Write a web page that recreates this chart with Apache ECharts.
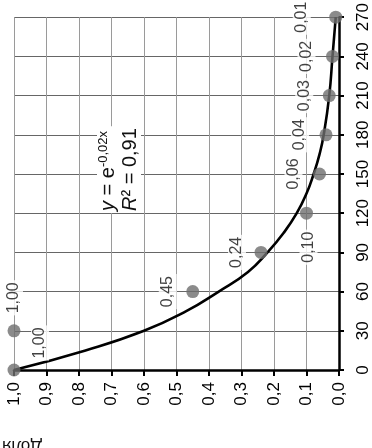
<!DOCTYPE html>
<html><head><meta charset="utf-8">
<script src="https://cdn.jsdelivr.net/npm/echarts@6/dist/echarts.min.js"></script>
<style>html,body{margin:0;padding:0;background:#fff;}#c{width:372px;height:448px;}</style>
</head><body><div id="c"></div>
<script>
// data (chart is displayed rotated: days run bottom->top, share runs right->left)
const days = [0, 30, 60, 90, 120, 150, 180, 210, 240, 270];
const shares = [1.00, 1.00, 0.45, 0.24, 0.10, 0.06, 0.04, 0.03, 0.02, 0.01];
const trendDays = [0, 15, 30, 45, 60, 75, 90, 105, 120, 135, 150, 165, 180, 210, 240, 270];
const trendShares = [1.00, 0.78, 0.60, 0.47, 0.37, 0.28, 0.22, 0.17, 0.13, 0.10, 0.078, 0.06, 0.047, 0.03, 0.02, 0.01];
const shareTickLabels = ['0,0','0,1','0,2','0,3','0,4','0,5','0,6','0,7','0,8','0,9','1,0'];
const dayTickLabels = ['0','30','60','90','120','150','180','210','240','270'];
const axisTitle = 'Доля';
const equationText = '{i|y} = e{s|-0,02x}\n{i|R}² = 0,91';

// label placement (styling only)
const labelShift = [[26,-27],[0,-33],[-25,0],[-24,0],[2,34],[-26,0],[-26,0],[-25,0],[-26,0],[-34,0]];

const FONT = 'Liberation Sans';
const SYM = 13;

const chart = echarts.init(document.getElementById('c'), null, {renderer: 'canvas'});

const scatterData = days.map((d, i) => ({
  value: [shares[i], d],
  label: {
    show: true,
    position: [SYM/2 + labelShift[i][0], SYM/2 + labelShift[i][1]],
    align: 'center',
    verticalAlign: 'middle'
  }
}));

chart.setOption({
  animation: false,
  backgroundColor: '#fff',
  textStyle: {fontFamily: FONT},
  grid: {left: 14, right: 33, top: 16, bottom: 78, containLabel: false},
  xAxis: {
    type: 'value', min: 0, max: 1, interval: 0.1, inverse: true, position: 'bottom',
    axisLine: {show: true, onZero: false, lineStyle: {color: '#000', width: 2.5}},
    axisTick: {show: true, length: 6, lineStyle: {color: '#000', width: 2}},
    splitLine: {show: true, lineStyle: {color: '#9a9a9a', width: 1}},
    axisLabel: {
      rotate: 90, margin: 12, fontSize: 17, color: '#000', fontFamily: FONT,
      formatter: v => shareTickLabels[Math.round(v * 10)]
    }
  },
  yAxis: {
    type: 'value', min: 0, max: 270, interval: 30, position: 'right',
    axisLine: {show: true, onZero: false, lineStyle: {color: '#000', width: 2.5}},
    axisTick: {show: true, length: 5, lineStyle: {color: '#000', width: 2}},
    splitLine: {show: true, lineStyle: {color: '#666', width: 1}},
    axisLabel: {
      rotate: 90, margin: 16, fontSize: 17, color: '#000', fontFamily: FONT,
      formatter: v => dayTickLabels[Math.round(v / 30)]
    }
  },
  series: [
    {
      type: 'line', smooth: true, symbol: 'none', z: 3,
      lineStyle: {color: '#000', width: 2.6},
      data: trendDays.map((d, i) => [trendShares[i], d])
    },
    {
      type: 'scatter', symbol: 'circle', symbolSize: SYM, z: 4,
      itemStyle: {color: '#6e6e6e'},
      label: {
        rotate: 90, fontSize: 16, color: '#111', fontFamily: FONT,
        backgroundColor: '#fff', padding: [1, 2],
        formatter: p => p.value[0].toFixed(2).replace('.', ',')
      },
      data: scatterData
    }
  ],
  graphic: [
    {
      type: 'text', x: 119, y: 213, rotation: Math.PI / 2, z: 10,
      style: {
        text: equationText, align: 'left', verticalAlign: 'middle',
        fontSize: 20, fontFamily: FONT, fill: '#111', lineHeight: 22,
        backgroundColor: '#fff', padding: [0, 2],
        rich: {
          i: {fontStyle: 'italic', fontSize: 20, fontFamily: FONT, fill: '#111'},
          s: {fontSize: 13, fontFamily: FONT, fill: '#111', verticalAlign: 'top', lineHeight: 22}
        }
      }
    },
    {
      type: 'text', x: 22, y: 446, rotation: Math.PI, z: 10,
      style: {text: axisTitle, align: 'center', verticalAlign: 'middle', fontSize: 17, fontFamily: FONT, fill: '#111'}
    }
  ]
});
</script></body></html>
